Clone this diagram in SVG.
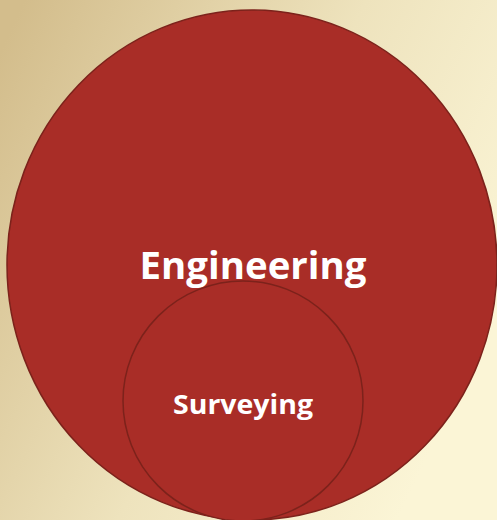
<svg xmlns="http://www.w3.org/2000/svg" width="497" height="520" viewBox="0 0 497 520">
  <defs>
    <linearGradient id="bg" x1="0" y1="0.1" x2="1" y2="0.6">
      <stop offset="0" stop-color="#d3bd8c"/>
      <stop offset="0.55" stop-color="#eee3bd"/>
      <stop offset="1" stop-color="#fbf5d6"/>
    </linearGradient>
  </defs>
  <style>
    .shape { fill: #a92d27; stroke: #7c221b; stroke-width: 1.5; }
    .label { fill: #ffffff; font-family: "Open Sans", "Liberation Sans", sans-serif; font-weight: 700; text-anchor: middle; }
  </style>
  <rect x="0" y="0" width="497" height="520" fill="url(#bg)"/>
  <g id="engineering">
    <ellipse class="shape" cx="252" cy="265" rx="245" ry="255"/>
    <text class="label" x="253" y="279" font-size="37" textLength="227" lengthAdjust="spacingAndGlyphs">Engineering</text>
  </g>
  <g id="surveying">
    <circle class="shape" cx="243" cy="401" r="120"/>
    <text class="label" x="243" y="414" font-size="26" textLength="140" lengthAdjust="spacingAndGlyphs">Surveying</text>
  </g>
  <g id="connectors"></g>
</svg>
